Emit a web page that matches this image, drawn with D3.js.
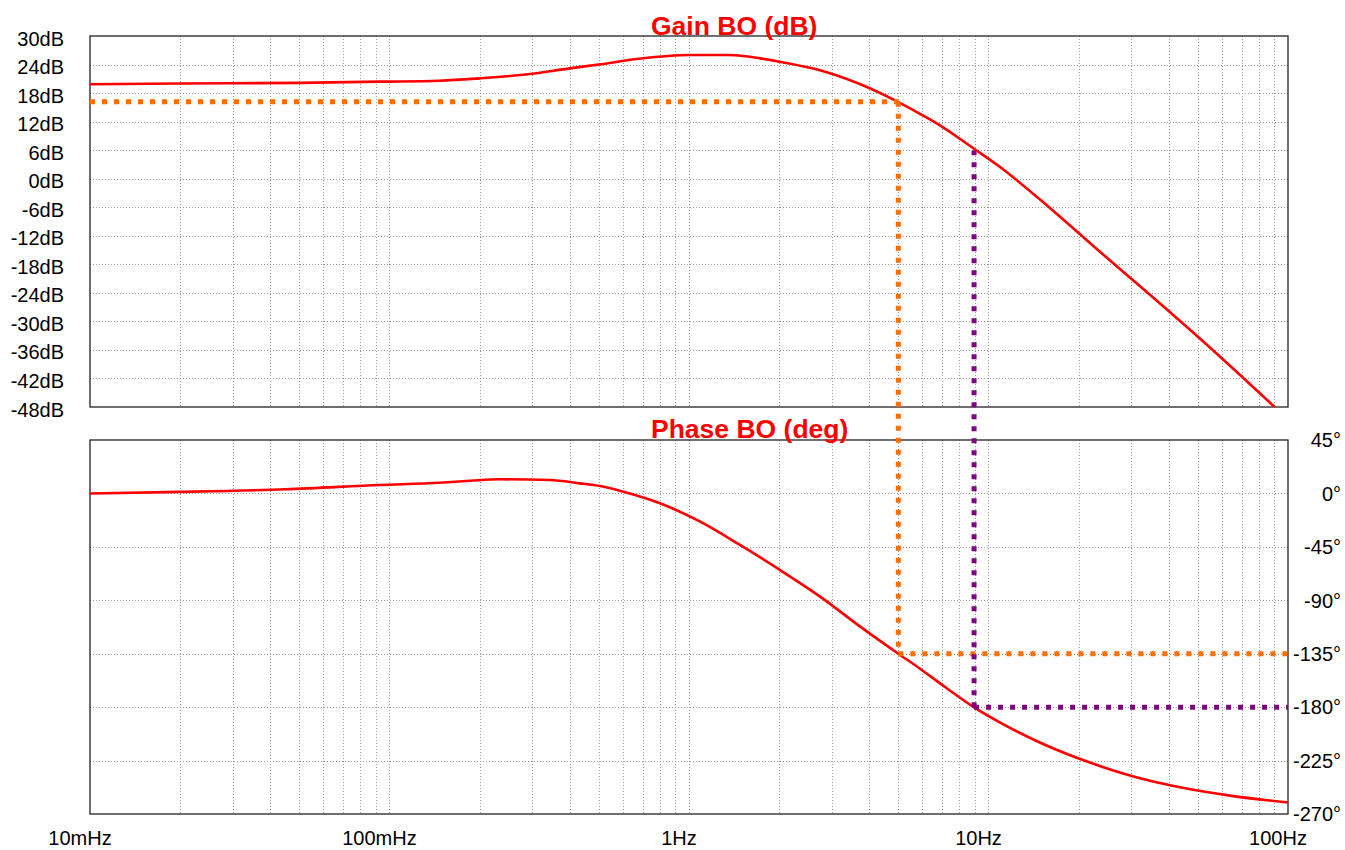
<!DOCTYPE html>
<html>
<head>
<meta charset="utf-8">
<script src="https://cdn.jsdelivr.net/npm/d3@7"></script>
<style>
  body { margin: 0; background: #fff; }
  text { font-family: "Liberation Sans", Arial, sans-serif; }
</style>
</head>
<body>
<svg id="chart" width="1345" height="850"></svg>
<script>
// frequency axis (Hz)
const decadeTicks = [0.01, 0.1, 1, 10, 100];
const decadeLabels = ["10mHz", "100mHz", "1Hz", "10Hz", "100Hz"];

// gain (dB)
const gainTicks = [30, 24, 18, 12, 6, 0, -6, -12, -18, -24, -30, -36, -42, -48];
const gainFreq = [0.01, 0.02, 0.05, 0.093, 0.147, 0.2, 0.295, 0.4, 0.5, 0.68, 1.0, 1.37, 1.73, 2.0, 2.7, 3.7, 5.0, 5.86, 6.89, 8.0, 9.0, 10.9, 16, 23.5, 34.6, 50.8, 74.7, 100];
const gainDb   = [19.85, 20.0, 20.15, 20.4, 20.6, 21.1, 22.0, 23.2, 24.0, 25.2, 26.0, 26.0, 25.3, 24.6, 22.9, 19.95, 16.1, 13.75, 11.2, 8.45, 6.2, 2.5, -6.1, -15.3, -24.4, -33.6, -43.2, -50.6];

// phase (deg)
const phaseTicks = [45, 0, -45, -90, -135, -180, -225, -270];
const phaseFreq = [0.01, 0.02, 0.045, 0.093, 0.147, 0.186, 0.233, 0.343, 0.432, 0.505, 0.587, 0.8, 1.09, 1.48, 2.01, 2.74, 3.73, 5.0, 5.86, 7.2, 8.93, 11.5, 14.9, 23.5, 34.6, 43.6, 64, 100];
const phaseDeg  = [0, 1.3, 3.5, 7.1, 9.0, 10.7, 11.9, 11.3, 8.5, 6.2, 2.3, -8.3, -23.8, -43.4, -64.4, -86.9, -112.2, -135, -147, -163.5, -180, -196, -210, -229.5, -242, -247.5, -254.5, -260.3];

// cursor markers
const markerFreq  = [5.0, 8.95];
const markerGain  = [16.2, 6.0];
const markerPhase = [-135, -180];
const markerColor = ["#ff6e00", "#800080"];

const svg = d3.select("#chart");
const left = 90, right = 1288;
const gainTop = 36, gainBottom = 407;
const phaseTop = 440, phaseBottom = 814;

const x = d3.scaleLog().domain([0.01, 100]).range([left, right]);
const yGain = d3.scaleLinear().domain([-48, 30]).range([gainBottom, gainTop]);
const yPhase = d3.scaleLinear().domain([-270, 45]).range([phaseBottom, phaseTop]);

// minor grid frequencies
const gridFreq = [];
for (const d of decadeTicks.slice(0, 4)) {
  for (let k = 1; k <= 9; k++) gridFreq.push(d * k);
}
const innerFreq = gridFreq.filter(f => f > 0.01 && f < 100);

const defs = svg.append("defs");
defs.append("clipPath").attr("id", "clip-gain")
  .append("rect").attr("x", left).attr("y", gainTop)
  .attr("width", right - left).attr("height", gainBottom - gainTop);
defs.append("clipPath").attr("id", "clip-phase")
  .append("rect").attr("x", left).attr("y", phaseTop)
  .attr("width", right - left).attr("height", phaseBottom - phaseTop);

function panel(y, top, bottom, ticks) {
  const g = svg.append("g");
  // vertical grid
  g.selectAll("line.vg").data(innerFreq).enter().append("line")
    .attr("x1", d => Math.round(x(d)) + 0.5).attr("x2", d => Math.round(x(d)) + 0.5)
    .attr("y1", top).attr("y2", bottom)
    .attr("stroke", "#9a9a9a").attr("stroke-width", 1).attr("stroke-dasharray", "1,2");
  // horizontal grid
  g.selectAll("line.hg").data(ticks.slice(1, -1)).enter().append("line")
    .attr("x1", left).attr("x2", right)
    .attr("y1", d => Math.round(y(d)) + 0.5).attr("y2", d => Math.round(y(d)) + 0.5)
    .attr("stroke", "#9a9a9a").attr("stroke-width", 1).attr("stroke-dasharray", "1,2");
  // frame
  g.append("rect")
    .attr("x", left).attr("y", top)
    .attr("width", right - left).attr("height", bottom - top)
    .attr("fill", "none").attr("stroke", "#222").attr("stroke-width", 1.3);
  return g;
}

panel(yGain, gainTop, gainBottom, gainTicks);
panel(yPhase, phaseTop, phaseBottom, phaseTicks);

// y labels
svg.append("g").selectAll("text").data(gainTicks).enter().append("text")
  .attr("x", 64).attr("y", d => yGain(d) + 9.5)
  .attr("text-anchor", "end").attr("font-size", 20).attr("fill", "#000")
  .text(d => d + "dB");

svg.append("g").selectAll("text").data(phaseTicks).enter().append("text")
  .attr("x", 1341).attr("y", d => yPhase(d) + 7.3)
  .attr("text-anchor", "end").attr("font-size", 20).attr("fill", "#000")
  .text(d => d + "°");

// x labels
svg.append("g").selectAll("text").data(decadeTicks).enter().append("text")
  .attr("x", d => x(d) - 10).attr("y", 845)
  .attr("text-anchor", "middle").attr("font-size", 20).attr("fill", "#000")
  .text((d, i) => decadeLabels[i]);

// curves
const gainLine = d3.line().x(d => x(d[0])).y(d => yGain(d[1])).curve(d3.curveMonotoneX);
const phaseLine = d3.line().x(d => x(d[0])).y(d => yPhase(d[1])).curve(d3.curveMonotoneX);

svg.append("path")
  .datum(d3.zip(gainFreq, gainDb))
  .attr("clip-path", "url(#clip-gain)")
  .attr("d", gainLine)
  .attr("fill", "none").attr("stroke", "#ff0000").attr("stroke-width", 2.6);

svg.append("path")
  .datum(d3.zip(phaseFreq, phaseDeg))
  .attr("clip-path", "url(#clip-phase)")
  .attr("d", phaseLine)
  .attr("fill", "none").attr("stroke", "#ff0000").attr("stroke-width", 2.6);

// cursor dotted lines
const cursors = svg.append("g");
markerFreq.forEach((f, i) => {
  const cx = x(f), gy = yGain(markerGain[i]), py = yPhase(markerPhase[i]);
  const segs = [];
  if (i === 0) segs.push([left, gy, cx, gy]);
  segs.push([cx, gy, cx, py]);
  segs.push([cx, py, right, py]);
  cursors.selectAll(null).data(segs).enter().append("line")
    .attr("x1", d => d[0]).attr("y1", d => d[1])
    .attr("x2", d => d[2]).attr("y2", d => d[3])
    .attr("stroke", markerColor[i]).attr("stroke-width", 5)
    .attr("stroke-dasharray", "5,7");
});

// titles
svg.append("text")
  .attr("x", 651).attr("y", 35)
  .attr("font-size", 26.5).attr("font-weight", "bold").attr("fill", "#ff0000")
  .text("Gain BO (dB)");
svg.append("text")
  .attr("x", 651).attr("y", 438)
  .attr("font-size", 26.5).attr("font-weight", "bold").attr("fill", "#ff0000")
  .text("Phase BO (deg)");
</script>
</body>
</html>
